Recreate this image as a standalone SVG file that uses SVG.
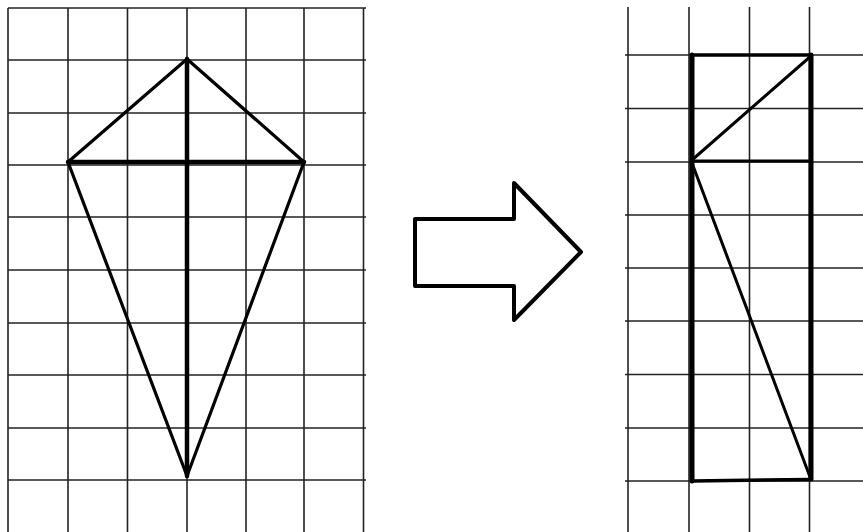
<svg xmlns="http://www.w3.org/2000/svg" width="863" height="532" viewBox="0 0 863 532">
<style>
.grid line{stroke:#222;stroke-width:1.6}
.shape{fill:none;stroke:#000;stroke-linejoin:round;stroke-linecap:round}
</style>
<rect width="863" height="532" fill="#fff"/>
<g id="left-grid" class="grid">
<line x1="8" y1="8" x2="8" y2="532"/>
<line x1="68" y1="8" x2="68" y2="532"/>
<line x1="127.5" y1="8" x2="127.5" y2="532"/>
<line x1="187" y1="8" x2="187" y2="532"/>
<line x1="246" y1="8" x2="246" y2="532"/>
<line x1="304" y1="8" x2="304" y2="532"/>
<line x1="363.5" y1="8" x2="363.5" y2="532"/>
<line x1="8" y1="8" x2="366" y2="8"/>
<line x1="8" y1="60" x2="366" y2="60"/>
<line x1="8" y1="113" x2="366" y2="113"/>
<line x1="8" y1="165" x2="366" y2="165"/>
<line x1="8" y1="217" x2="366" y2="217"/>
<line x1="8" y1="270" x2="366" y2="270"/>
<line x1="8" y1="323" x2="366" y2="323"/>
<line x1="8" y1="375" x2="366" y2="375"/>
<line x1="8" y1="428" x2="366" y2="428"/>
<line x1="8" y1="480" x2="366" y2="480"/>
</g>
<g id="kite">
<polygon class="shape" stroke-width="3.2" points="187,59 304,162 187,476 68,162"/>
<line class="shape" stroke-width="4.5" x1="187" y1="59" x2="187" y2="476"/>
<line class="shape" stroke-width="4.5" x1="68" y1="162" x2="304" y2="162"/>
</g>
<g id="arrow">
<polygon class="shape" stroke-width="4" stroke-linejoin="miter" points="415,219 514,219 514,183 581,252 514,320 514,286 415,286"/>
</g>
<g id="right-grid" class="grid">
<line x1="628" y1="7" x2="628" y2="532"/>
<line x1="689" y1="7" x2="689" y2="532"/>
<line x1="749.5" y1="7" x2="749.5" y2="532"/>
<line x1="809.5" y1="7" x2="809.5" y2="532"/>
<line x1="625" y1="55" x2="863" y2="55"/>
<line x1="625" y1="108.5" x2="863" y2="108.5"/>
<line x1="625" y1="162" x2="863" y2="162"/>
<line x1="625" y1="215" x2="863" y2="215"/>
<line x1="625" y1="268" x2="863" y2="268"/>
<line x1="625" y1="321" x2="863" y2="321"/>
<line x1="625" y1="374.5" x2="863" y2="374.5"/>
<line x1="625" y1="428" x2="863" y2="428"/>
<line x1="625" y1="481" x2="863" y2="481"/>
</g>
<g id="rectangle">
<line class="shape" stroke-width="3.5" x1="692" y1="55" x2="811" y2="55"/>
<line class="shape" stroke-width="5" x1="692" y1="55" x2="692" y2="481"/>
<line class="shape" stroke-width="5" x1="811" y1="55" x2="811" y2="479"/>
<line class="shape" stroke-width="3.5" x1="692" y1="481" x2="811" y2="479.5"/>
<line class="shape" stroke-width="3.2" x1="692" y1="161" x2="811" y2="161"/>
<line class="shape" stroke-width="3" x1="692" y1="160" x2="811" y2="56"/>
<line class="shape" stroke-width="3" x1="692" y1="163" x2="810" y2="477"/>
</g>
</svg>
